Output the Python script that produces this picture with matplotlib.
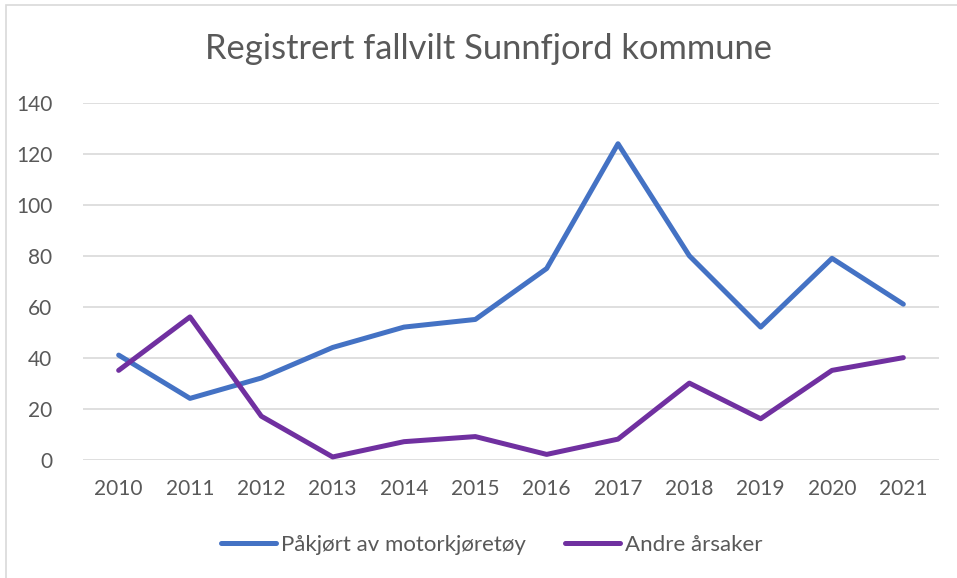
import matplotlib
matplotlib.use("Agg")
import matplotlib.pyplot as plt
from matplotlib.patches import Rectangle

years = ['2010', '2011', '2012', '2013', '2014', '2015',
         '2016', '2017', '2018', '2019', '2020', '2021']
pakjort = [41, 24, 32, 44, 52, 55, 75, 124, 80, 52, 79, 61]
andre = [35, 56, 17, 1, 7, 9, 2, 8, 30, 16, 35, 40]

title = 'Registrert fallvilt Sunnfjord kommune'
labels = ['Påkjørt av motorkjøretøy', 'Andre årsaker']
colors = ['#4472C4', '#7030A0']
text_color = '#595959'
grid_color = '#d9d9d9'

plt.rcParams['font.family'] = ['Lato', 'DejaVu Sans']

fig = plt.figure(figsize=(9.57, 5.78), dpi=100)
ax = fig.add_axes([83 / 957, 1 - 459.5 / 578, (939 - 83) / 957, (459.5 - 103) / 578])

x = list(range(len(years)))
ax.plot(x, pakjort, color=colors[0], lw=3.6, solid_capstyle='round',
        solid_joinstyle='round', label=labels[0], zorder=3)
ax.plot(x, andre, color=colors[1], lw=3.6, solid_capstyle='round',
        solid_joinstyle='round', label=labels[1], zorder=3)

ax.set_xlim(-0.5, len(years) - 0.5)
ax.set_ylim(0, 140)
ax.set_yticks(range(0, 141, 20))
ax.set_xticks(x)
ax.set_xticklabels(years)

ax.yaxis.grid(True, color=grid_color, lw=1.2)
ax.set_axisbelow(True)
for s in ax.spines.values():
    s.set_visible(False)
ax.tick_params(length=0, labelsize=15, colors=text_color)
ax.tick_params(axis='y', pad=22)
ax.tick_params(axis='x', pad=14)

fig.text(488 / 957, 1 - 49 / 578, title, ha='center', va='center',
         fontsize=24.8, color=text_color, fontweight='normal')

fig.legend(loc='center', bbox_to_anchor=(491.5 / 957, 1 - 545 / 578), ncol=2,
           frameon=False, fontsize=16, handlelength=2.5, handletextpad=0.2,
           columnspacing=1.75, labelcolor=text_color)

fig.patches.append(Rectangle((6 / 957, -0.1), 1.2, 1.1 - 5.5 / 578,
                             transform=fig.transFigure, fill=False,
                             edgecolor=grid_color, lw=1.2))

fig.savefig('out.png', dpi=100, facecolor='white')
